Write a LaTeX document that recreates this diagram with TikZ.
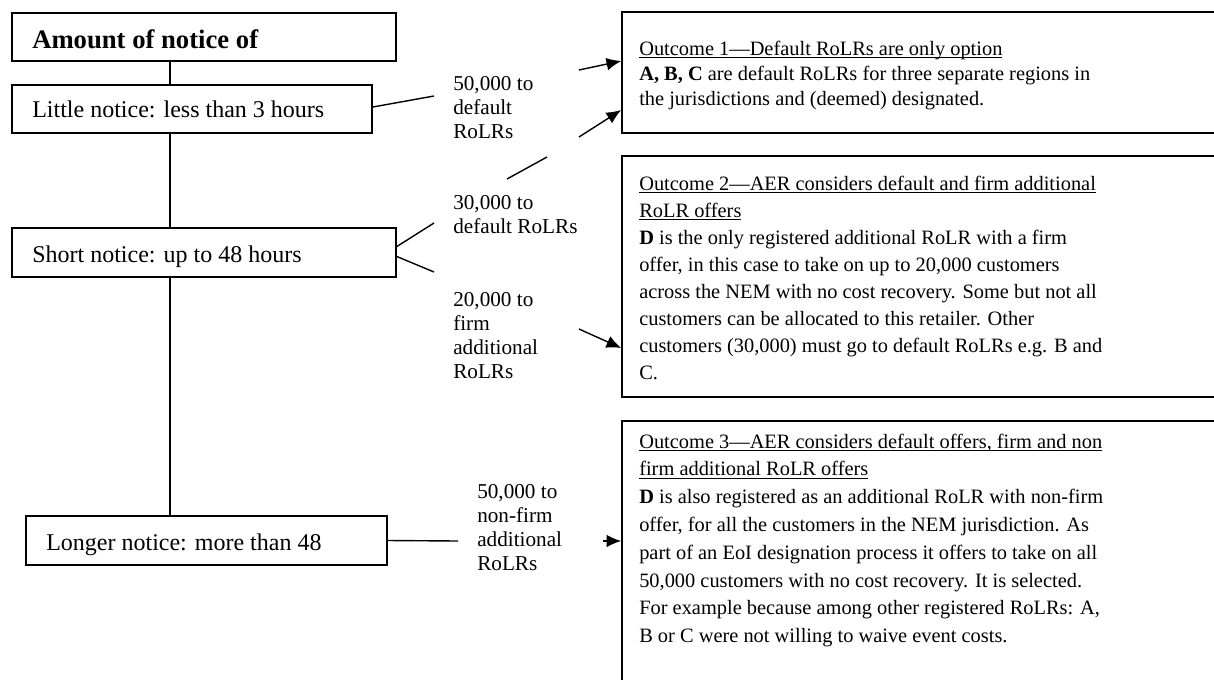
\documentclass[tikz,border=0pt]{standalone}
\usepackage{fontspec}
\setmainfont{Liberation Serif}
\usetikzlibrary{arrows.meta,fit}
% underline drawn close to the baseline, crossing descenders
\newcommand\ulline[1]{\setbox0\hbox{#1}\rlap{\rule[-2.4pt]{\wd0}{0.9pt}}\box0}
\newcommand\stack[1]{\begin{tabular}[t]{@{}l@{}}#1\end{tabular}}
\begin{document}
\begin{tikzpicture}[x=0.75pt,y=-0.75pt,
  box/.style={draw, line width=1.25pt, inner sep=0pt},
  conn/.style={line width=1.05pt},
  arr/.style={conn, -{Latex[length=11pt,width=9.5pt]}},
  headtxt/.style={inner sep=0pt, anchor=base west, font=\fontsize{20}{24}\selectfont\bfseries},
  boxtxt/.style={inner sep=0pt, anchor=base west, font=\fontsize{18}{22}\selectfont},
  lbl/.style={inner sep=0pt, anchor=base west, font=\fontsize{15.9}{18.2}\selectfont},
  outtxt/.style={inner sep=0pt, anchor=base west}]
\useasboundingbox (0,0) rectangle (1214,679);
\clip (0,0) rectangle (1214,679);

% left column of notice boxes
\node[box, fit={(12,13)(396,61)}] (head) {};
\node[box, fit={(12,85)(372,133)}] (little) {};
\node[box, fit={(12,228)(396,277)}] (short) {};
\node[box, fit={(26,516)(387,565)}] (longer) {};

\node[headtxt] (headlbl) at (32,48) {Amount of notice of};
\node[boxtxt] (littlelbl) at (32,117) {Little notice: less than 3 hours};
\node[boxtxt] (shortlbl) at (32,262) {Short notice: up to 48 hours};
\node[boxtxt] (longerlbl) at (46,550) {Longer notice: more than 48};

% outcome boxes, running off the right and bottom edges
\node[box, fit={(622,12)(1240,133)}] (o1) {};
\node[box, fit={(622,156)(1240,397)}] (o2) {};
\node[box, fit={(622,421)(1240,700)}] (o3) {};

\node[outtxt, font=\fontsize{15.3}{18.75}\selectfont] (o1txt) at (639,55) {\stack{%
\ulline{Outcome 1—Default RoLRs are only option}\\
\textbf{A, B, C} are default RoLRs for three separate regions in\\
the jurisdictions and (deemed) designated.}};

\node[outtxt, font=\fontsize{15.3}{20.25}\selectfont] (o2txt) at (639,190) {\stack{%
\ulline{Outcome 2—AER considers default and firm additional}\\
\ulline{RoLR offers}\\
\textbf{D} is the only registered additional RoLR with a firm\\
offer, in this case to take on up to 20,000 customers\\
across the NEM with no cost recovery. Some but not all\\
customers can be allocated to this retailer. Other\\
customers (30,000) must go to default RoLRs e.g. B and\\
C.}};

\node[outtxt, font=\fontsize{15.3}{20.85}\selectfont] (o3txt) at (639,448) {\stack{%
\ulline{Outcome 3—AER considers default offers, firm and non}\\
\ulline{firm additional RoLR offers}\\
\textbf{D} is also registered as an additional RoLR with non-firm\\
offer, for all the customers in the NEM jurisdiction. As\\
part of an EoI designation process it offers to take on all\\
50,000 customers with no cost recovery. It is selected.\\
For example because among other registered RoLRs: A,\\
B or C were not willing to waive event costs.}};

% customer-number labels
\node[lbl] (l1) at (453,90) {\stack{50,000 to\\default\\RoLRs}};
\node[lbl] (l2) at (453,209) {\stack{30,000 to\\default RoLRs}};
\node[lbl] (l3) at (453,306) {\stack{20,000 to\\firm\\additional\\RoLRs}};
\node[lbl] (l4) at (477,498) {\stack{50,000 to\\non-firm\\additional\\RoLRs}};

% vertical trunk
\coordinate (trunk) at (170,0);
\draw[conn] (head.south -| trunk) -- (little.north -| trunk);
\draw[conn] (little.south -| trunk) -- (short.north -| trunk);
\draw[conn] (short.south -| trunk) -- (longer.north -| trunk);

% connector pieces broken around the labels
\coordinate (c1) at (434,96);
\coordinate (c2) at (579,70);
\coordinate (t1) at (0,61);
\coordinate (c3) at (434,223);
\coordinate (c4) at (507,179);
\coordinate (c5) at (547,157);
\coordinate (c6) at (579,137);
\coordinate (t2) at (0,110);
\coordinate (c7) at (434,272);
\coordinate (c8) at (579,329);
\coordinate (t3) at (0,348);
\coordinate (c9) at (458,541);
\coordinate (c10) at (603,541);

\draw[conn] ([yshift=1.5pt]little.east) -- (c1);
\draw[arr] (c2) -- (o1.west |- t1);

\draw[conn] ([yshift=4.5pt]short.east) -- (c3);
\draw[conn] (c4) -- (c5);
\draw[arr] (c6) -- (o1.west |- t2);

\draw[conn] ([yshift=-3pt]short.east) -- (c7);
\draw[arr] (c8) -- (o2.west |- t3);

\draw[conn] (longer.east) -- (c9);
\draw[arr] (c10) -- (o3.west |- c10);
\end{tikzpicture}
\end{document}
